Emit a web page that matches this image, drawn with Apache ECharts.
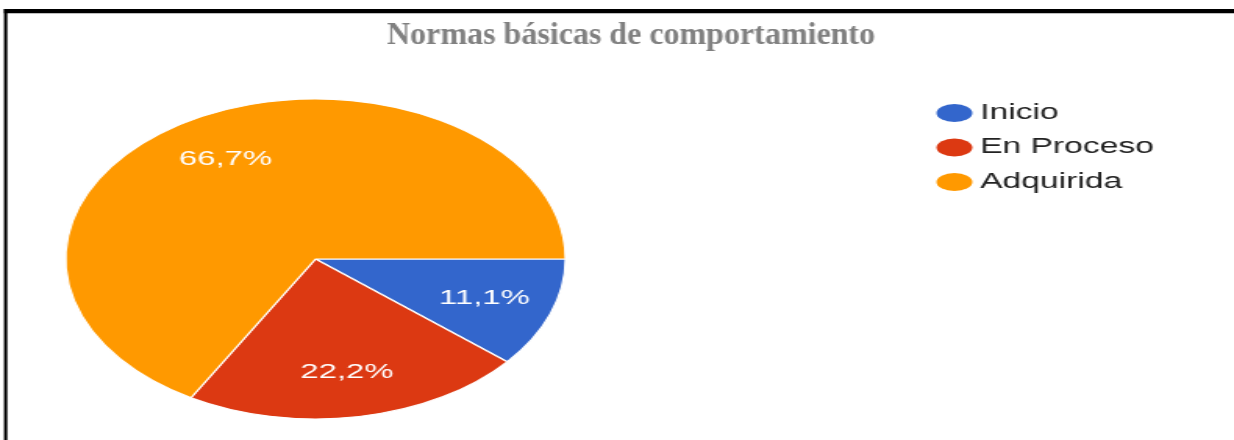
<!DOCTYPE html>
<html>
<head>
<meta charset="utf-8">
<script src="https://cdn.jsdelivr.net/npm/echarts@6/dist/echarts.min.js"></script>
<style>
  html, body { margin: 0; padding: 0; background: #ffffff; overflow: hidden; }
  #wrap { position: absolute; left: 0; top: 0; width: 1234px; height: 440px; overflow: hidden; }
  #chart { position: absolute; left: 0; top: 0; width: 790px; height: 440px; transform-origin: 0 0; }
</style>
</head>
<body>
<div id="wrap"><div id="chart"></div></div>
<script>
// ---- data ----
const titleText = 'Normas básicas de comportamiento';
const categories = ['Inicio', 'En Proceso', 'Adquirida'];
const percentages = [11.1, 22.2, 66.7];
const colors = ['#3366CC', '#DC3912', '#FF9900'];

// the reference picture is stretched horizontally
const SX = 1234 / 790;
const el = document.getElementById('chart');
el.style.transform = 'scaleX(' + SX + ')';

const pieData = categories.map((name, i) => ({
  name: name,
  value: percentages[i],
  itemStyle: { color: colors[i] }
}));
const labelData = categories.map((name, i) => ({ name: name, value: percentages[i] }));

const chart = echarts.init(el, null, { renderer: 'canvas' });
chart.setOption({
  backgroundColor: '#ffffff',
  animation: false,
  legend: {
    orient: 'vertical',
    left: 599.5,
    top: 102,
    padding: 0,
    itemWidth: 23,
    itemHeight: 18,
    itemGap: 12.5,
    icon: 'path://M0,9A11.5,9 0 1,1 23,9A11.5,9 0 1,1 0,9Z',
    symbolKeepAspect: false,
    itemStyle: { borderWidth: 0 },
    data: categories,
    selectedMode: false,
    textStyle: {
      fontFamily: '"Liberation Sans", Arial, sans-serif',
      fontSize: 21.5,
      lineHeight: 21,
      color: '#222222'
    }
  },
  graphic: [
    { type: 'rect', silent: true, shape: { x: 2.56, y: 9, width: 790, height: 4.3 }, style: { fill: '#000000' } },
    { type: 'rect', silent: true, shape: { x: 2.56, y: 9, width: 2.1, height: 440 }, style: { fill: '#000000' } },
    {
      type: 'text', silent: true,
      x: 404, y: 36, scaleX: 1 / SX,
      style: {
        text: titleText,
        x: 0, y: 0,
        textAlign: 'center',
        textVerticalAlign: 'middle',
        fill: '#808080',
        font: 'bold 32px "Liberation Serif", "Times New Roman", serif'
      }
    }
  ],
  series: [
    {
      type: 'pie',
      name: 'main',
      center: [202, 259],
      radius: [0, 160],
      startAngle: 0,
      clockwise: true,
      avoidLabelOverlap: false,
      label: { show: false },
      labelLine: { show: false },
      emphasis: { disabled: true },
      itemStyle: { borderColor: '#ffffff', borderWidth: 1.2 },
      data: pieData
    },
    {
      type: 'pie',
      name: 'labels',
      silent: true,
      center: [202, 259],
      radius: [64, 160],
      startAngle: 0,
      clockwise: true,
      avoidLabelOverlap: false,
      itemStyle: { color: 'rgba(0,0,0,0)', borderWidth: 0 },
      emphasis: { disabled: true },
      labelLine: { show: false },
      label: {
        show: true,
        position: 'inside',
        color: '#ffffff',
        fontFamily: '"Liberation Sans", Arial, sans-serif',
        fontSize: 21,
        formatter: p => p.value.toFixed(1).replace('.', ',') + '%'
      },
      data: labelData
    }
  ]
});
</script>
</body>
</html>
